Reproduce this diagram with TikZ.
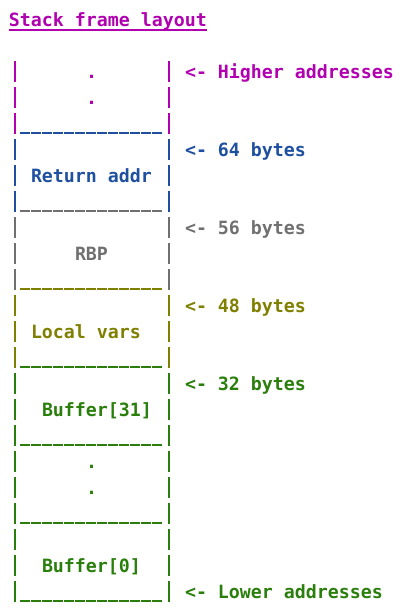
\documentclass[tikz,border=0pt]{standalone}
\usepackage{fontspec}
\setmonofont{DejaVu Sans Mono}
\definecolor{cmag}{HTML}{B000B0}
\definecolor{cblue}{HTML}{1F50A0}
\definecolor{cgray}{HTML}{707070}
\definecolor{colive}{HTML}{7F7F00}
\definecolor{cgreen}{HTML}{2A7F0C}
\begin{document}
\begin{tikzpicture}[x=1pt,y=-1pt,
  mono/.style={font=\fontsize{18.27}{26}\selectfont\ttfamily\bfseries, anchor=base west, inner sep=0pt, outer sep=0pt},
  barline/.style={line width=2pt},
  scoreline/.style={line width=2.5pt, dash pattern=on 10pt off 1pt}]
\useasboundingbox (0,0) rectangle (402,616);

% title
\node[mono,text=cmag] (title) at (9,26) {Stack frame layout};
\draw[cmag,line width=2pt] ([yshift=-4pt,xshift=0.3pt]title.base west) -- ([yshift=-4pt,xshift=-0.3pt]title.base east);

% vertical bars
\foreach \r/\c in {2/cmag,3/cmag,4/cmag,5/cblue,6/cblue,7/cblue,8/cgray,9/cgray,10/cgray,11/colive,12/colive,13/colive,14/cgreen,15/cgreen,16/cgreen,17/cgreen,18/cgreen,19/cgreen,20/cgreen,21/cgreen,22/cgreen}{
  \pgfmathsetmacro\yy{26+26*\r}
  \draw[barline,\c] (14.5,\yy-17) -- (14.5,\yy+4);
  \draw[barline,\c] (168.5,\yy-17) -- (168.5,\yy+4);
}

% underscore rows
\foreach \r/\c in {4/cblue,7/cgray,10/colive,13/cgreen,16/cgreen,19/cgreen,22/cgreen}{
  \pgfmathsetmacro\yy{26+26*\r}
  \draw[scoreline,\c] (20,\yy+3) -- (163,\yy+3);
}

% dots
\node[mono,text=cmag] (dotA) at (86,78) {.};
\node[mono,text=cmag] (dotB) at (86,104) {.};
\node[mono,text=cgreen] (dotC) at (86,468) {.};
\node[mono,text=cgreen] (dotD) at (86,494) {.};

% cell labels
\node[mono,text=cblue] (ret) at (31,182) {Return addr};
\node[mono,text=cgray] (rbp) at (75,260) {RBP};
\node[mono,text=colive] (loc) at (31,338) {Local vars};
\node[mono,text=cgreen] (buf31) at (42,416) {Buffer[31]};
\node[mono,text=cgreen] (buf0) at (42,572) {Buffer[0]};

% address labels
\node[mono,text=cmag] (hi) at (185,78) {<- Higher addresses};
\node[mono,text=cblue] (b64) at (185,156) {<- 64 bytes};
\node[mono,text=cgray] (b56) at (185,234) {<- 56 bytes};
\node[mono,text=colive] (b48) at (185,312) {<- 48 bytes};
\node[mono,text=cgreen] (b32) at (185,390) {<- 32 bytes};
\node[mono,text=cgreen] (lo) at (185,598) {<- Lower addresses};
\end{tikzpicture}
\end{document}
